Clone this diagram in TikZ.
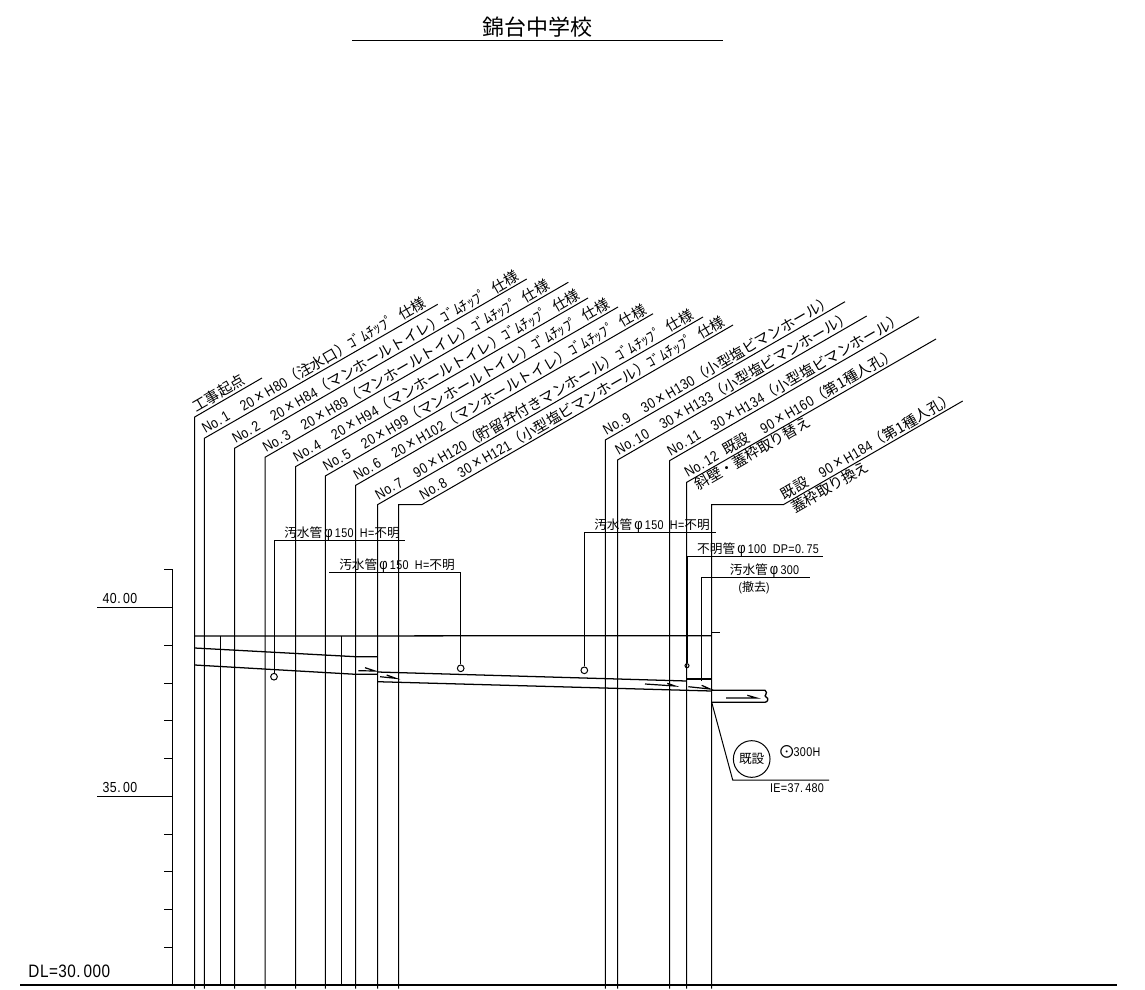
\documentclass[tikz,border=0pt]{standalone}
\usepackage{fontspec}
\setmainfont[FakeStretch=0.85,LetterSpace=2.7]{Liberation Sans}
\newfontfamily\jp{Noto Sans CJK JP}
\newcommand{\J}[1]{{\jp #1}}
% full width cell for signs
\newcommand{\Z}[1]{\makebox[1em]{\scalebox{1.2}{#1}}}
% half width blank
\newcommand{\Q}{\hspace*{0.5em}}

\tikzset{
    leader/.style={line width=0.75pt},
    pipeline/.style={line width=0.95pt},
    lblsize/.style={font=\fontsize{10.9pt}{13pt}\selectfont},
    lbl/.style={lblsize, rotate=30, anchor=base west, inner sep=0pt, xshift=2.2pt, yshift=2.4pt},
    lblunder/.style={lblsize, rotate=30, anchor=base west, inner sep=0pt, xshift=4pt, yshift=-10pt},
    note/.style={font=\fontsize{9.5pt}{12pt}\selectfont, inner sep=0pt},
    flow/.style={line width=0.9pt},
}

\begin{document}
\begin{tikzpicture}[x=0.75pt, y=-0.75pt, line width=0.75pt]

    \useasboundingbox (0,0) rectangle (1145,989);

    % Title
    \node[font=\fontsize{16.5pt}{18pt}\selectfont, inner sep=0pt] (title) at (537,27) {\J{錦台中学校}};
    \coordinate (TL) at (352,40);
    \coordinate (TR) at (723,40);
    \draw (TL) -- (TR);

    % Elevation axis
    \coordinate (A0) at (172,569);
    \coordinate (A1) at (172,985);
    \draw (A0) -- (A1);
    \foreach \y in {569,607,645,683,720,758,796,834,871,909,947}
        \draw (164,\y) -- (172,\y);
    \draw (97,607) -- (172,607);
    \draw (97,796) -- (172,796);
    \node[note, lblsize, anchor=base] (e40) at (120,603) {40.\,00};
    \node[note, lblsize, anchor=base] (e35) at (120,792) {35.\,00};
    \node[font=\fontsize{13.5pt}{16pt}\selectfont, inner sep=0pt, anchor=base west] (dl) at (28,977) {DL=30.\,000};

    % Base line
    \coordinate (BL) at (20,985);
    \coordinate (BR) at (1117,985);
    \draw[line width=1.1pt] (BL) -- (BR);

    % Survey lines: start of leader and its far end
    \foreach \n/\xa/\ya/\xb/\yb in {
        S/194.7/417/262/378,
        A/204.3/438.3/437.7/304.3,
        B/234.5/448.3/526.7/279,
        C/265/457.3/568.3/282.3,
        D/295.5/466.7/588/298,
        E/325.3/476/618/307,
        F/355.7/485.3/653/313.7,
        G/377.5/504.7/703/317,
        J/605.3/440/845/301.7,
        K/617.5/460/866.7/316,
        L/669.5/460.7/919/316.7,
        M/686.7/482.3/936/339}
    {
        \coordinate (\n1) at (\xa,\ya);
        \coordinate (\n2) at (\xb,\yb);
        \coordinate (\n0) at (\xa,988.5);
        \draw[leader] (\n0) -- (\n1) -- (\n2);
    }

    % These two have a short level part
    \coordinate (H0) at (398.5,988.5);
    \coordinate (H1) at (398.5,504.7);
    \coordinate (H3) at (421.7,504.7);
    \coordinate (H2) at (733,325);
    \draw[leader] (H0) -- (H1) -- (H3) -- (H2);
    \coordinate (N0) at (711.7,988.5);
    \coordinate (N1) at (711.7,504.7);
    \coordinate (N3) at (783.3,504.7);
    \coordinate (N2) at (962.7,401);
    \draw[leader] (N0) -- (N1) -- (N3) -- (N2);

    % Leader labels
    \node[lbl] (tS) at (S1) {\J{工事起点}};
    \node[lbl] (tA) at (A1) {No.\,1\Q\Q20\Z{×}H80\J{（注水口）ｺﾞﾑﾁｯﾌﾟ}\Q\J{仕様}};
    \node[lbl] (tB) at (B1) {No.\,2\Q\Q20\Z{×}H84\J{（マンホールトイレ）ｺﾞﾑﾁｯﾌﾟ}\Q\J{仕様}};
    \node[lbl] (tC) at (C1) {No.\,3\Q\Q20\Z{×}H89\J{（マンホールトイレ）ｺﾞﾑﾁｯﾌﾟ}\Q\J{仕様}};
    \node[lbl] (tD) at (D1) {No.\,4\Q\Q20\Z{×}H94\J{（マンホールトイレ）ｺﾞﾑﾁｯﾌﾟ}\Q\J{仕様}};
    \node[lbl] (tE) at (E1) {No.\,5\Q\Q20\Z{×}H99\J{（マンホールトイレ）ｺﾞﾑﾁｯﾌﾟ}\Q\J{仕様}};
    \node[lbl] (tF) at (F1) {No.\,6\Q\Q20\Z{×}H102\J{（マンホールトイレ）ｺﾞﾑﾁｯﾌﾟ}\Q\J{仕様}};
    \node[lbl] (tG) at (G1) {No.\,7\Q\Q90\Z{×}H120\J{（貯留弁付きマンホール）ｺﾞﾑﾁｯﾌﾟ}\Q\J{仕様}};
    \node[lbl] (tH) at (H3) {No.\,8\Q\Q30\Z{×}H121\J{（小型塩ビマンホール）ｺﾞﾑﾁｯﾌﾟ}\Q\J{仕様}};
    \node[lbl] (tJ) at (J1) {No.\,9\Q\Q30\Z{×}H130\J{（小型塩ビマンホール）}};
    \node[lbl] (tK) at (K1) {No.\,10\Q\Q30\Z{×}H133\J{（小型塩ビマンホール）}};
    \node[lbl] (tL) at (L1) {No.\,11\Q\Q30\Z{×}H134\J{（小型塩ビマンホール）}};
    \node[lbl] (tM) at (M1) {No.\,12\Q\J{既設}\Q\Q90\Z{×}H160\J{（第1種人孔）}};
    \node[lblunder] (uM) at (M1) {\J{斜壁・蓋枠取り替え}};
    \node[lbl] (tN) at (N3) {\J{既設}\Q\Q90\Z{×}H184\J{（第1種人孔）}};
    \node[lblunder] (uN) at (N3) {\J{蓋枠取り換え}};

    % Short verticals
    \foreach \n/\x in {P/220.7,Q/341.5}
    {
        \coordinate (\n1) at (\x,636);
        \coordinate (\n0) at (\x,985);
        \draw (\n1) -- (\n0);
    }

    % Ground line
    \coordinate (G0) at (194.7,636);
    \coordinate (G9) at (711.7,635.7);
    \coordinate (G8) at (711.7,632.7);
    \coordinate (G7) at (719.7,632.7);
    \draw[pipeline] (G0) -- (G9);
    \draw (G8) -- (G7);

    % Pipe, upstream part
    \coordinate (U1) at (194.7,648);
    \coordinate (U2) at (355.7,656.7);
    \coordinate (U3) at (377.5,656.7);
    \coordinate (U4) at (194.7,665);
    \coordinate (U5) at (355.7,674.3);
    \coordinate (U6) at (377.5,674.3);
    \draw[pipeline] (U1) -- (U2) -- (U3);
    \draw[pipeline] (U4) -- (U5) -- (U6);

    % Pipe, main part
    \coordinate (V1) at (377.5,672);
    \coordinate (V2) at (686.7,681);
    \coordinate (V3) at (377.5,681.7);
    \coordinate (V4) at (711.7,691);
    \coordinate (V5) at (686.7,679);
    \coordinate (V6) at (711.7,679);
    \draw[pipeline] (V1) -- (V2);
    \draw[pipeline] (V3) -- (V4);
    \draw[pipeline] (V5) -- (V6);

    % Existing pipe with break
    \coordinate (W1) at (711.7,690.3);
    \coordinate (W2) at (765,690.3);
    \coordinate (W3) at (711.7,702.3);
    \coordinate (W4) at (765,702.3);
    \draw[line width=1pt] (W1) -- (W2) .. controls (769,693) and (763,696) .. (766,697) .. controls (769,698) and (768,702) .. (W4) -- (W3);

    % Flow marks
    \foreach \xa/\ya/\xb/\yb/\xc/\yc in {
        358.3/670.7/375/671/365/667.7,
        380/676.7/395.7/678.3/386.7/675,
        645/684/675/686/667.3/683.3,
        688.3/686.7/710/689/701.7/685.3,
        726/698/756.7/698/747.3/695.3}
        \draw[flow] (\xa,\ya) -- (\xb,\yb) -- (\xc,\yc);

    % Buried pipes
    \node[circle, draw, inner sep=0pt, minimum size=5pt] (c1) at (274,676.7) {};
    \node[circle, draw, inner sep=0pt, minimum size=5pt] (c2) at (460.7,668.3) {};
    \node[circle, draw, inner sep=0pt, minimum size=5pt] (c3) at (584.3,670.3) {};
    \node[circle, draw, inner sep=0pt, minimum size=3pt] (c4) at (687,665.7) {};

    \coordinate (c1a) at (274,540);
    \coordinate (c1b) at (405.3,540);
    \draw (c1) -- (c1a) -- (c1b);
    \node[note, anchor=base] (n1) at (342,537) {\J{汚水管}\Z{φ}150\Q H=\J{不明}};

    \coordinate (c2a) at (460.7,572);
    \coordinate (c2b) at (329.3,572);
    \draw (c2) -- (c2a) -- (c2b);
    \node[note, anchor=base] (n2) at (397,569) {\J{汚水管}\Z{φ}150\Q H=\J{不明}};

    \coordinate (c3a) at (584.3,532.3);
    \coordinate (c3b) at (715.7,532.3);
    \draw (c3) -- (c3a) -- (c3b);
    \node[note, anchor=base] (n3) at (652,529) {\J{汚水管}\Z{φ}150\Q H=\J{不明}};

    \coordinate (c4a) at (687,556.3);
    \coordinate (c4b) at (823.3,556.3);
    \draw (c4) -- (c4a) -- (c4b);
    \node[note, anchor=base] (n4) at (758,553) {\J{不明管}\Z{φ}100\Q DP=0.\,75};

    \coordinate (d1) at (701.3,681);
    \coordinate (d2) at (701.3,577.3);
    \coordinate (d3) at (810,577.3);
    \draw (d1) -- (d2) -- (d3);
    \node[note, anchor=base] (n5) at (764.5,574) {\J{汚水管}\Z{φ}300};
    \node[note, anchor=base, font=\fontsize{9pt}{10pt}\selectfont] (n6) at (754,591) {(\J{撤去})};

    % Existing manhole callout
    \coordinate (X1) at (732.7,780);
    \coordinate (X2) at (829,780);
    \draw (W3) -- (X1) -- (X2);
    \node[circle, draw, inner sep=0pt, minimum size=27.5pt, font=\fontsize{9.5pt}{12pt}\selectfont] (kizon) at (751.7,759) {\J{既設}};
    \node[note, anchor=base west] (n7) at (780.5,756) {\raisebox{-1.5pt}{\makebox[1em]{\J{\fontsize{13pt}{13pt}\selectfont ⊙}}}300H};
    \node[note, anchor=base] (n8) at (797,792) {IE=37.\,480};

\end{tikzpicture}
\end{document}
